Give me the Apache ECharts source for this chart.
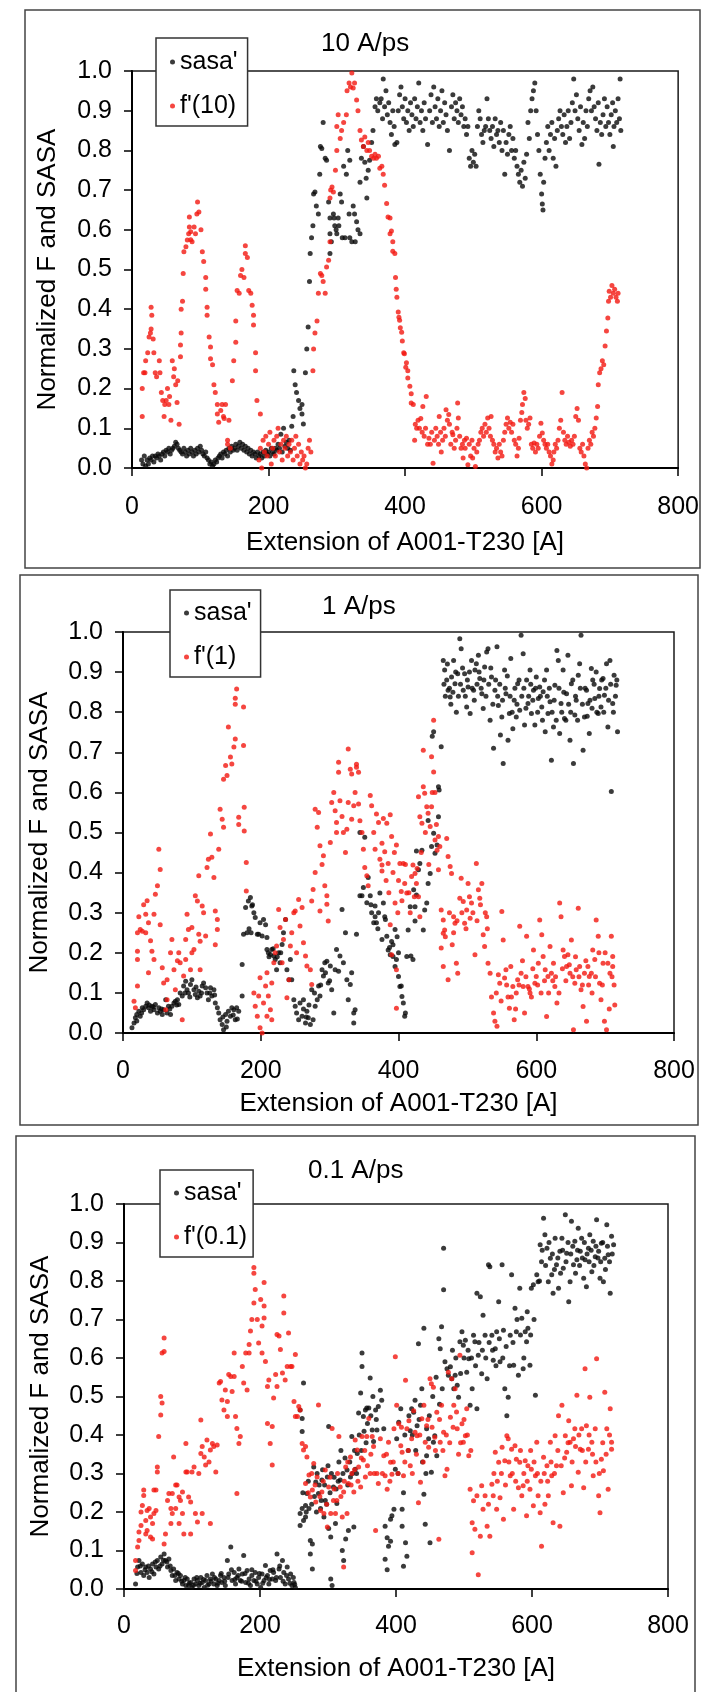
<!DOCTYPE html>
<html><head><meta charset="utf-8">
<script src="https://cdn.jsdelivr.net/npm/echarts@6/dist/echarts.min.js"></script>
<style>html,body{margin:0;padding:0;background:#fff}#c{width:702px;height:1692px}</style>
</head><body><div id="c"></div>
<script>
// ---------- texts / tick labels ----------
const panelTitles = ['10 A/ps', '1 A/ps', '0.1 A/ps'];
const sasaName = "sasa'";
const forceNames = ["f'(10)", "f'(1)", "f'(0.1)"];
const xAxisTitle = 'Extension of A001-T230 [A]';
const yAxisTitle = 'Normalized F and SASA';
const xTickLabels = ['0', '200', '400', '600', '800'];
const yTickLabels = ['0.0','0.1','0.2','0.3','0.4','0.5','0.6','0.7','0.8','0.9','1.0'];

// ---------- panel 1 : 10 A/ps ----------
const sasa10 = [
[14,0.02],[16,0.01],[18,0.03],[20,0.005],[22,0.02],[24,0.01],[26,0.025],[28,0.02],[30,0.03],[32,0.015],[34,0.03],[36,0.025],[38,0.035],[40,0.03],[42,0.02],[44,0.035],[46,0.04],[48,0.03],[50,0.045],[52,0.04],[54,0.05],[56,0.035],[58,0.045],[60,0.05],[62,0.055],[64,0.065],[66,0.06],[68,0.05],[70,0.045],[72,0.04],[74,0.035],[76,0.05],[78,0.04],[80,0.03],[82,0.045],[84,0.035],[86,0.05],[88,0.04],[90,0.03],[92,0.045],[94,0.035],[96,0.05],[98,0.04],[100,0.055],[102,0.045],[104,0.035],[106,0.03],[108,0.04],[110,0.025],[112,0.02],[114,0.01],[116,0.015],[118,0.005],[120,0.01],[122,0.02],[124,0.015],[126,0.025],[128,0.03],[130,0.035],[132,0.025],[134,0.04],[136,0.035],[138,0.045],[140,0.03],[142,0.05],[144,0.04],[146,0.055],[148,0.045],[150,0.05],[152,0.06],[154,0.045],[156,0.055],[158,0.065],[160,0.05],[162,0.06],[164,0.045],[166,0.055],[168,0.04],[170,0.05],[172,0.035],[174,0.045],[176,0.03],[178,0.04],[180,0.035],[182,0.025],[184,0.04],[186,0.03],[188,0.035],[190,0.025],[192,0.04],[194,0.03],[196,0.045],[198,0.035],[200,0.04],[202,0.03],[204,0.05],[206,0.04],[208,0.035],[210,0.05],[212,0.045],[214,0.06],[216,0.05],[218,0.085],[220,0.04],[222,0.1],[224,0.055],[226,0.065],[228,0.05],[230,0.07],[232,0.045],[234,0.105],[236,0.13],
[237,0.245],[239,0.21],[241,0.19],[244,0.17],[246,0.15],[249,0.136],[251,0.111],[249,0.16],[254,0.24],[256,0.3],[258,0.355],[260,0.47],[261,0.54],[263,0.58],[265,0.61],[266,0.69],[268,0.695],[270,0.66],[273,0.64],[275,0.74],[276,0.81],[278,0.805],[280,0.87],[283,0.78],[285,0.775],[288,0.67],[290,0.63],[290,0.59],[292,0.57],[290,0.54],[295,0.64],[297,0.61],[300,0.59],[302,0.63],[305,0.69],[307,0.67],[308,0.58],[310,0.76],[314,0.74],[316,0.8],[319,0.775],[319,0.58],[322,0.57],[324,0.66],[326,0.64],[329,0.62],[331,0.6],[334,0.59],[334,0.72],[336,0.78],[339,0.81],[341,0.77],[343,0.73],[346,0.75],[344,0.68],[348,0.775],[351,0.82],[353,0.85],[356,0.91],[358,0.93],[360,0.9],[363,0.92],[296,0.63],[299,0.6],[303,0.61],[312,0.58],[318,0.64],[327,0.57],
[365,0.93],[367,0.88],[368,0.98],[370,0.91],[372,0.95],[374,0.89],[376,0.92],[378,0.87],[380,0.84],[382,0.9],[384,0.86],[385,0.815],[388,0.82],[390,0.9],[392,0.94],[394,0.96],[396,0.91],[398,0.88],[400,0.93],[402,0.87],[404,0.9],[406,0.85],[408,0.92],[410,0.89],[412,0.86],[414,0.93],[416,0.88],[418,0.91],[420,0.97],[422,0.87],[424,0.9],[426,0.85],[428,0.92],[430,0.88],[433,0.815],[436,0.9],[438,0.94],[440,0.87],[442,0.96],[444,0.91],[446,0.88],[448,0.93],[450,0.86],[452,0.9],[454,0.95],[456,0.87],[458,0.92],[460,0.89],[462,0.85],[465,0.8],[468,0.91],[470,0.94],[472,0.88],[474,0.92],[476,0.9],[478,0.87],[480,0.93],[482,0.89],[484,0.91],[486,0.86],[488,0.88],[490,0.84],[492,0.86],[494,0.78],[496,0.76],[498,0.8],[500,0.77],[502,0.79],[504,0.76],[506,0.86],[508,0.9],[510,0.88],[512,0.84],[514,0.82],[516,0.85],[518,0.86],[520,0.93],[522,0.88],[524,0.85],[526,0.83],[528,0.86],[530,0.81],[532,0.88],[534,0.84],[536,0.85],[538,0.82],[540,0.87],[542,0.8],[544,0.85],[546,0.74],[548,0.82],[550,0.79],[552,0.84],[554,0.86],[556,0.8],[558,0.83],[560,0.78],[562,0.8],[564,0.76],[566,0.74],[568,0.72],[570,0.75],[572,0.71],[574,0.77],[576,0.73],[578,0.79],[580,0.87],[582,0.83],[584,0.9],[586,0.93],[588,0.95],[590,0.97],[592,0.9],[594,0.84],[596,0.8],[598,0.74],[600,0.69],[601,0.665],[602,0.65],[603,0.72],[605,0.78],[607,0.82],[609,0.86],[611,0.8],[613,0.84],[615,0.87],[617,0.78],[619,0.83],[621,0.76],[623,0.85],[625,0.88],[627,0.9],[629,0.86],[631,0.84],[633,0.89],[635,0.82],[637,0.86],[639,0.9],[641,0.83],[643,0.87],[645,0.92],[647,0.98],[649,0.9],[651,0.94],[653,0.88],[655,0.85],[657,0.91],[659,0.815],[661,0.87],[663,0.83],[665,0.9],[667,0.86],[669,0.93],[671,0.95],[673,0.9],[675,0.96],[677,0.91],[679,0.88],[681,0.85],[683,0.92],[684,0.765],[686,0.87],[688,0.84],[690,0.89],[692,0.93],[694,0.86],[696,0.91],[698,0.87],[700,0.84],[702,0.89],[704,0.92],[705,0.81],[706,0.86],[708,0.9],[710,0.87],[712,0.93],[714,0.88],[715,0.98],[716,0.85]
];
const force10 = [
[15,0.13],[15,0.2],[17,0.24],[19,0.24],[20,0.27],[23,0.29],[25,0.33],[27,0.34],[28,0.35],[28,0.405],[29,0.385],[31,0.325],[32,0.29],[34,0.24],[36,0.23],[40,0.27],[41,0.24],[43,0.19],[45,0.17],[47,0.13],[48,0.16],[50,0.17],[52,0.2],[54,0.16],[55,0.18],[57,0.12],[59,0.27],[61,0.23],[62,0.25],[64,0.21],[66,0.165],[67,0.22],[69,0.11],[71,0.28],[71,0.31],[72,0.34],[72,0.4],[74,0.42],[75,0.49],[76,0.545],[79,0.557],[81,0.574],[83,0.59],[84,0.607],[84,0.632],[86,0.575],[86,0.595],[88,0.57],[91,0.607],[93,0.59],[95,0.64],[96,0.67],[98,0.645],[101,0.6],[103,0.545],[105,0.52],[108,0.48],[108,0.45],[110,0.405],[110,0.385],[113,0.33],[115,0.305],[115,0.275],[118,0.26],[120,0.21],[122,0.19],[125,0.16],[125,0.136],[127,0.115],[130,0.145],[132,0.16],[134,0.13],[135,0.125],[137,0.16],[140,0.06],[140,0.07],[142,0.12],[144,0.05],[147,0.22],[149,0.27],[152,0.317],[152,0.37],[154,0.447],[157,0.44],[159,0.485],[161,0.5],[164,0.48],[166,0.54],[166,0.56],[169,0.53],[171,0.447],[174,0.44],[176,0.41],[178,0.385],[178,0.36],[181,0.29],[181,0.245],[183,0.17],[188,0.136],
[186,0.02],[188,0.05],[190,0.0],[192,0.07],[194,0.04],[196,0.08],[198,0.03],[200,0.06],[202,0.09],[204,0.01],[206,0.05],[208,0.07],[210,0.03],[212,0.08],[214,0.1],[216,0.04],[218,0.06],[220,0.02],[222,0.07],[224,0.05],[226,0.08],[228,0.03],[230,0.06],[232,0.04],[234,0.07],[236,0.02],[238,0.05],[240,0.08],[242,0.03],[244,0.06],[246,0.01],[248,0.04],[250,0.02],[252,0.03],[254,0.0],[256,0.01],[258,0.05],[260,0.07],[262,0.04],
[265,0.245],[266,0.3],[268,0.34],[271,0.37],[273,0.44],[276,0.49],[278,0.485],[280,0.47],[283,0.44],[285,0.506],[288,0.523],[290,0.57],[290,0.68],[291,0.7],[293,0.708],[295,0.695],[298,0.75],[300,0.8],[300,0.86],[302,0.89],[305,0.83],[307,0.85],[310,0.87],[314,0.89],[315,0.95],[318,0.97],[320,0.96],[322,0.995],[324,0.957],[326,0.97],[329,0.927],[331,0.9],[334,0.85],[336,0.826],[339,0.81],[341,0.834],[344,0.8],[346,0.82],[348,0.8],[351,0.785],[354,0.78],[356,0.79],[358,0.78],[361,0.785],[363,0.755],[366,0.76],[368,0.74],[370,0.712],[373,0.666],[375,0.632],[378,0.59],[378,0.63],[380,0.597],[382,0.57],[382,0.546],[385,0.54],[386,0.48],[387,0.45],[388,0.43],[390,0.393],[391,0.38],[392,0.372],[393,0.353],[395,0.342],[396,0.32],[398,0.29],[399,0.288],[401,0.254],[402,0.265],[404,0.245],[404,0.227],[407,0.206],[409,0.187],[409,0.164],[412,0.16],
[414,0.07],[415,0.11],[417,0.1],[419,0.12],[421,0.1],[423,0.125],[425,0.09],[426,0.155],[428,0.08],[430,0.1],[431,0.18],[433,0.06],[435,0.075],[437,0.06],[439,0.09],[441,0.012],[443,0.07],[445,0.1],[447,0.08],[449,0.06],[450,0.13],[452,0.09],[453,0.04],[455,0.07],[457,0.1],[459,0.08],[460,0.147],[462,0.12],[464,0.135],[465,0.11],[467,0.06],[469,0.09],[470,0.084],[472,0.05],[474,0.07],[476,0.1],[477,0.164],[478,0.126],[480,0.08],[482,0.05],[484,0.06],[485,0.025],[487,0.07],[488,0.05],[490,0.075],[492,0.008],[494,0.06],[496,0.03],[498,0.07],[499,0.025],[501,0.05],[503,0.004],[505,0.04],[507,0.06],[509,0.07],[511,0.09],[513,0.1],[515,0.08],[517,0.11],[519,0.09],[521,0.126],[523,0.1],[525,0.08],[526,0.13],[528,0.07],[530,0.06],[532,0.04],[534,0.05],[536,0.025],[538,0.06],[540,0.04],[542,0.03],[544,0.07],[546,0.09],[548,0.11],[550,0.126],[552,0.1],[554,0.115],[556,0.09],[558,0.11],[560,0.07],[562,0.06],[564,0.03],[566,0.05],[567,0.075],[569,0.12],[571,0.14],[572,0.16],[574,0.19],[576,0.175],[577,0.12],[579,0.1],[581,0.11],[583,0.126],[585,0.06],[587,0.05],[589,0.063],[591,0.04],[593,0.06],[595,0.05],[597,0.08],[599,0.113],[601,0.088],[603,0.07],[605,0.06],[607,0.05],[609,0.06],[611,0.04],[613,0.03],[615,0.01],[617,0.02],[618,0.04],[620,0.06],[622,0.05],[624,0.07],[626,0.1],[628,0.12],[630,0.19],[632,0.09],[634,0.07],[636,0.06],[638,0.08],[640,0.065],[642,0.055],[644,0.07],[646,0.06],[648,0.08],[650,0.13],[652,0.15],[654,0.12],[656,0.05],[658,0.04],[660,0.06],[662,0.03],[664,0.01],[666,0.0],[668,0.05],[670,0.07],[672,0.06],[674,0.09],[676,0.08],[678,0.1],[680,0.126],[682,0.155],[683,0.21],[685,0.24],[687,0.25],[689,0.27],[691,0.26],[693,0.307],[695,0.345],[697,0.378],[698,0.42],[699,0.445],[701,0.43],[703,0.46],[705,0.44],[707,0.45],[709,0.43],[711,0.42],[712,0.44]
];

// ---------- panel 2 : 1 A/ps ----------
const sasa1 = [
[13,0.013],[16,0.025],[18,0.038],[20,0.046],[23,0.054],[25,0.042],[28,0.063],[30,0.058],[33,0.067],[35,0.075],[37,0.063],[40,0.054],[42,0.067],[45,0.058],[47,0.071],[50,0.05],[52,0.063],[54,0.054],[57,0.046],[59,0.058],[62,0.083],[64,0.05],[66,0.067],[69,0.046],[71,0.067],[74,0.075],[76,0.079],[79,0.083],[81,0.071],[83,0.1],[86,0.092],[88,0.117],[91,0.129],[93,0.108],[95,0.1],[98,0.121],[100,0.133],[103,0.108],[105,0.096],[108,0.088],[110,0.104],[112,0.092],[115,0.117],[117,0.125],[120,0.113],[122,0.1],[124,0.083],[127,0.113],[129,0.092],[132,0.108],[134,0.075],[137,0.063],[139,0.05],[141,0.033],[144,0.021],[146,0.008],[149,0.046],[151,0.029],[153,0.054],[156,0.042],[158,0.063],[161,0.058],[163,0.033],[165,0.063],[168,0.054],[173,0.092],
[20,0.03],[27,0.05],[38,0.07],[44,0.065],[56,0.06],[68,0.06],[78,0.07],[90,0.1],[97,0.09],[106,0.115],[114,0.1],[126,0.1],[133,0.095],[145,0.04],[150,0.015],[160,0.045],[166,0.035],
[173,0.171],[175,0.246],[178,0.313],[182,0.329],[185,0.338],[187,0.317],[190,0.3],[192,0.288],[195,0.246],[197,0.246],[199,0.275],[202,0.242],[204,0.283],[207,0.27],[209,0.238],[209,0.208],[211,0.2],[214,0.196],[216,0.208],[219,0.192],[221,0.183],[223,0.158],[226,0.2],[228,0.175],[231,0.221],[233,0.25],[236,0.283],[238,0.158],[241,0.133],[243,0.183],[245,0.133],[248,0.083],[250,0.067],[252,0.05],[255,0.033],[257,0.075],[260,0.042],[262,0.083],[265,0.025],[267,0.054],[269,0.038],[272,0.021],[274,0.108],[276,0.033],[279,0.067],[282,0.083],[284,0.117],[286,0.092],[289,0.158],[291,0.142],[293,0.175],[296,0.179],[298,0.125],[301,0.167],[303,0.108],[306,0.05],[308,0.158],[310,0.208],[313,0.154],[315,0.192],[318,0.308],[320,0.175],[323,0.25],[325,0.133],[327,0.083],[330,0.121],[332,0.15],[335,0.025],[335,0.05],[337,0.058],[339,0.246],[344,0.342],[344,0.5],[347,0.342],[349,0.363],[351,0.488],[354,0.325],[356,0.388],[359,0.342],[361,0.3],[364,0.275],[366,0.317],[368,0.275],[371,0.3],
[212,0.19],[218,0.21],[224,0.19],[229,0.2],[180,0.25],[183,0.26],[186,0.25],[188,0.32],[262,0.06],[266,0.04],[270,0.07],[278,0.1],[287,0.12],[294,0.15],[300,0.13],
[373,0.349],[378,0.324],[380,0.29],[383,0.241],[385,0.207],[388,0.195],[390,0.228],[392,0.191],[395,0.166],[397,0.183],[400,0.141],[402,0.116],[405,0.091],[407,0.075],[410,0.05],[412,0.191],[414,0.257],[417,0.315],[422,0.357],[424,0.315],[426,0.344],[429,0.407],[431,0.423],[434,0.456],[436,0.257],[438,0.307],[441,0.324],[443,0.373],[446,0.398],[448,0.465],[451,0.498],[453,0.448],[456,0.469],[458,0.539],[458,0.614],[451,0.751],[462,0.714],
[376,0.233],[381,0.283],[387,0.213],[395,0.258],[400,0.2],[404,0.117],[409,0.042],[418,0.192],[421,0.183],[424,0.279],[426,0.454],[370,0.26],[366,0.29],[360,0.32],[398,0.24],[392,0.22],[459,0.606],[449,0.74],[443,0.53],
[465,0.929],[467,0.905],[470,0.88],[472,0.855],[475,0.838],[477,0.888],[480,0.929],[482,0.871],[484,0.8],[486,0.896],[489,0.983],[491,0.958],[494,0.855],[496,0.896],[499,0.813],[501,0.863],[504,0.797],[506,0.929],[509,0.855],[511,0.905],[513,0.921],[516,0.942],[518,0.884],[521,0.846],[523,0.809],[525,0.913],[528,0.95],[530,0.958],[533,0.78],[535,0.888],[538,0.71],[540,0.855],[543,0.963],[545,0.817],[548,0.743],[550,0.788],[552,0.672],[554,0.905],[556,0.846],[559,0.73],[561,0.797],[563,0.934],[566,0.759],[568,0.83],[571,0.788],[573,0.871],[576,0.805],[578,0.992],[581,0.946],[583,0.768],[586,0.88],[588,0.822],[591,0.905],[593,0.797],[596,0.855],[598,0.768],[600,0.888],[603,0.834],[605,0.863],[608,0.813],[610,0.851],[613,0.751],[615,0.905],[617,0.797],[620,0.826],[622,0.68],[625,0.763],[627,0.867],[630,0.954],[632,0.929],[634,0.747],[636,0.822],[639,0.905],[641,0.784],[644,0.846],[646,0.942],[649,0.73],[651,0.871],[654,0.672],[656,0.793],[658,0.83],[661,0.892],[663,0.921],[665,0.992],[668,0.705],[670,0.788],[673,0.855],[675,0.822],[677,0.747],[680,0.909],[682,0.88],[685,0.834],[687,0.9],[690,0.797],[692,0.859],[694,0.813],[697,0.884],[699,0.842],[702,0.921],[704,0.763],[707,0.929],[709,0.602],[711,0.822],[713,0.892],[716,0.867],[718,0.751],
[466,0.87],[468,0.84],[471,0.92],[474,0.86],[476,0.82],[479,0.85],[483,0.9],[487,0.84],[490,0.87],[493,0.91],[497,0.84],[500,0.88],[503,0.9],[507,0.86],[510,0.83],[514,0.87],[517,0.9],[520,0.86],[524,0.88],[527,0.84],[531,0.87],[534,0.91],[537,0.82],[541,0.88],[544,0.84],[547,0.87],[551,0.83],[555,0.86],[558,0.89],[562,0.84],[565,0.8],[569,0.86],[572,0.82],[575,0.88],[579,0.84],[582,0.86],[585,0.81],[589,0.84],[592,0.87],[595,0.83],[599,0.86],[602,0.8],[606,0.84],[609,0.78],[612,0.88],[616,0.84],[619,0.86],[623,0.8],[626,0.83],[629,0.78],[633,0.86],[637,0.8],[640,0.85],[643,0.78],[647,0.82],[650,0.8],[653,0.88],[657,0.84],[660,0.78],[664,0.86],[667,0.82],[671,0.86],[674,0.79],[678,0.83],[681,0.81],[684,0.87],[688,0.8],[691,0.84],[695,0.88],[698,0.8],[701,0.86],[705,0.83],[708,0.87],[712,0.8],[715,0.84],[717,0.88]
];
const force1 = [
[16,0.079],[18,0.063],[21,0.117],[21,0.183],[21,0.204],[21,0.25],[23,0.29],[25,0.258],[28,0.254],[30,0.32],[33,0.25],[33,0.296],[35,0.33],[37,0.275],[37,0.15],[40,0.23],[42,0.204],[45,0.183],[45,0.296],[47,0.346],[50,0.367],[52,0.458],[54,0.408],[54,0.27],[57,0.163],[59,0.125],[62,0.058],[64,0.083],[64,0.133],[69,0.2],[71,0.233],[74,0.158],[76,0.108],[79,0.18],[81,0.2],[83,0.175],[86,0.033],[88,0.142],[91,0.183],[91,0.233],[93,0.296],[95,0.258],[98,0.158],[100,0.2],[100,0.263],[103,0.208],[105,0.342],[108,0.329],[110,0.392],[110,0.246],[112,0.158],[112,0.229],[115,0.317],[117,0.3],[120,0.242],[122,0.413],[124,0.433],[127,0.496],[129,0.438],[132,0.388],[134,0.304],[137,0.283],[134,0.22],[137,0.258],[139,0.458],[141,0.558],[144,0.533],[146,0.513],[146,0.633],[149,0.667],[151,0.642],[153,0.763],[156,0.688],[158,0.671],[161,0.713],[163,0.733],[163,0.835],[165,0.858],[163,0.82],[168,0.538],[168,0.52],[175,0.813],[175,0.717],[176,0.563],[176,0.504],[179,0.425],[179,0.354],
[190,0.1],[192,0.067],[195,0.042],[197,0.092],[199,0.138],[202,0.0],[199,0.013],[204,0.075],[207,0.117],[209,0.15],[209,0.042],[211,0.092],[214,0.058],[216,0.125],[216,0.033],[219,0.175],[221,0.2],[223,0.217],[226,0.308],[228,0.263],[231,0.175],[233,0.233],[236,0.283],[238,0.088],[241,0.133],[243,0.217],[245,0.25],[248,0.3],[250,0.304],[252,0.2],[255,0.333],[257,0.267],[260,0.313],[262,0.225],[265,0.192],[267,0.167],[272,0.158],[274,0.121],[274,0.329],[276,0.358],[279,0.4],[279,0.558],[282,0.513],[284,0.55],[286,0.467],[289,0.42],[286,0.304],[291,0.442],[293,0.367],[296,0.342],[296,0.321],[298,0.279],[301,0.475],[303,0.575],[306,0.6],[308,0.554],[310,0.525],[310,0.5],[313,0.675],[313,0.65],[315,0.579],[318,0.54],[320,0.5],[323,0.45],[325,0.508],[327,0.708],[327,0.575],[330,0.658],[332,0.646],[332,0.533],[335,0.567],[337,0.6],[339,0.67],[339,0.663],[342,0.65],[342,0.571],[344,0.529],[347,0.5],[349,0.458],[351,0.413],[354,0.392],[356,0.367],[359,0.592],[361,0.567],[364,0.5],[366,0.458],[368,0.546],[371,0.525],[373,0.433],[376,0.404],
[378,0.535],[383,0.523],[388,0.544],[376,0.473],[380,0.452],[376,0.419],[385,0.423],[390,0.49],[397,0.469],[402,0.423],[407,0.423],[409,0.373],[412,0.349],[404,0.353],[395,0.324],[399,0.3],[388,0.27],[390,0.195],[397,0.158],[397,0.062],[419,0.39],[421,0.419],[424,0.398],[426,0.373],[429,0.34],[431,0.29],[436,0.705],[429,0.589],[431,0.539],[434,0.523],[436,0.614],[438,0.598],[441,0.564],[443,0.548],[446,0.515],[448,0.689],[448,0.564],[451,0.78],[451,0.651],[453,0.6],[453,0.481],[456,0.456],[458,0.49],[460,0.465],[458,0.407],[462,0.307],[465,0.282],[467,0.257],[470,0.485],[472,0.44],[475,0.415],[477,0.398],[462,0.212],[465,0.249],[465,0.166],[472,0.133],[480,0.29],[480,0.25],[482,0.274],[484,0.174],[486,0.149],[489,0.336],[491,0.386],[494,0.328],[496,0.274],[499,0.307],[501,0.373],[504,0.286],[506,0.324],[511,0.195],[513,0.423],[516,0.357],[518,0.336],[521,0.373],[523,0.245],[525,0.216],[528,0.29],[530,0.174],[533,0.149],[535,0.09],[538,0.05],[540,0.029],[543,0.017],[545,0.145],[547,0.124],[550,0.303],[552,0.232],[554,0.137],[556,0.158],[559,0.09],[561,0.062],[563,0.166],[566,0.116],[568,0.033],[571,0.1],[573,0.133],[576,0.266],[578,0.149],[581,0.116],[583,0.05],[586,0.241],[588,0.116],[591,0.1],[593,0.09],[596,0.207],[598,0.124],[600,0.141],[603,0.174],[605,0.282],[608,0.245],[610,0.191],[613,0.158],[615,0.041],[617,0.141],[620,0.216],[622,0.149],[625,0.174],[627,0.116],[630,0.075],[634,0.324],[636,0.29],[639,0.207],[641,0.191],[644,0.166],[646,0.195],[649,0.149],[651,0.232],[654,0.008],[656,0.124],[658,0.158],[661,0.311],[663,0.166],[665,0.108],[668,0.066],[670,0.149],[673,0.029],[675,0.166],[677,0.141],[680,0.149],[682,0.207],[685,0.183],[687,0.282],[690,0.241],[692,0.124],[694,0.083],[697,0.174],[699,0.029],[702,0.008],[704,0.174],[707,0.149],[709,0.241],[711,0.166],[714,0.07],[711,0.191],
[542,0.1],[549,0.08],[557,0.12],[564,0.09],[570,0.06],[575,0.12],[580,0.18],[585,0.14],[590,0.11],[595,0.16],[602,0.12],[607,0.1],[612,0.13],[618,0.1],[624,0.13],[628,0.14],[633,0.1],[638,0.16],[643,0.13],[648,0.17],[653,0.14],[657,0.19],[662,0.14],[667,0.12],[672,0.18],[676,0.12],[681,0.1],[686,0.14],[691,0.2],[696,0.12],[700,0.2],[706,0.06],[710,0.14],[713,0.12],
[468,0.24],[474,0.3],[478,0.22],[485,0.28],[492,0.3],[498,0.26],[503,0.34],[508,0.3],[514,0.28],[519,0.32],[526,0.3],[529,0.26],
[382,0.38],[386,0.35],[392,0.4],[394,0.45],[400,0.38],[405,0.33],[410,0.42],[415,0.35],[417,0.3],[423,0.34],[427,0.41],[433,0.45],[439,0.5],[444,0.42],[449,0.6],[455,0.52]
];

// ---------- panel 3 : 0.1 A/ps ----------
const sasa01 = [
[17,0.013],[20,0.057],[22,0.074],[25,0.043],[27,0.065],[29,0.035],[32,0.057],[34,0.043],[37,0.03],[39,0.052],[42,0.065],[44,0.039],[47,0.057],[49,0.074],[51,0.052],[54,0.083],[56,0.065],[59,0.091],[61,0.074],[64,0.057],[66,0.078],[69,0.048],[71,0.035],[73,0.052],[76,0.022],[78,0.043],[81,0.026],[83,0.035],[86,0.013],[88,0.022],[91,0.009],[93,0.026],[95,0.009],[98,0.017],[100,0.004],[103,0.026],[105,0.013],[108,0.022],[110,0.009],[113,0.03],[115,0.017],[118,0.004],[120,0.022],[122,0.035],[125,0.013],[127,0.026],[130,0.039],[132,0.013],[135,0.026],[137,0.009],[140,0.022],[142,0.035],[144,0.017],[147,0.03],[149,0.009],[152,0.074],[154,0.039],[157,0.109],[159,0.022],[162,0.043],[164,0.013],[166,0.03],[169,0.052],[171,0.022],[174,0.039],[176,0.087],[179,0.017],[181,0.048],[184,0.026],[186,0.009],[188,0.035],[191,0.022],[193,0.043],[196,0.013],[198,0.03],[201,0.004],[203,0.039],[206,0.022],[208,0.061],[211,0.035],[213,0.013],[215,0.048],[218,0.026],[220,0.043],[223,0.022],[225,0.091],[228,0.052],[230,0.03],[233,0.074],[235,0.043],[237,0.013],[240,0.057],[242,0.026],[245,0.039],[247,0.009],[250,0.017],[252,0.004],
[19,0.04],[24,0.06],[31,0.05],[36,0.06],[41,0.045],[46,0.07],[53,0.06],[58,0.075],[63,0.07],[68,0.06],[75,0.035],[80,0.04],[85,0.02],[90,0.03],[96,0.015],[102,0.01],[107,0.03],[112,0.015],[117,0.025],[123,0.01],[128,0.02],[133,0.03],[138,0.015],[143,0.04],[148,0.02],[153,0.03],[158,0.05],[163,0.025],[168,0.035],[173,0.02],[178,0.04],[183,0.015],[188,0.05],[194,0.02],[199,0.04],[204,0.015],[209,0.03],[214,0.025],[219,0.05],[224,0.03],[229,0.06],[234,0.02],[239,0.035],[244,0.015],[249,0.03],[251,0.012],
[262,0.443],[259,0.465],[264,0.535],[262,0.409],[259,0.196],[259,0.165],[262,0.209],[264,0.178],[267,0.217],[267,0.187],[269,0.248],[272,0.209],[274,0.126],[274,0.091],[277,0.117],[277,0.052],[279,0.317],[282,0.278],[284,0.3],[286,0.248],[289,0.209],[291,0.283],[294,0.187],[296,0.23],[299,0.291],[301,0.422],[301,0.157],[304,0.026],[304,0.135],[306,0.009],[308,0.265],[311,0.17],[313,0.222],[316,0.33],[318,0.283],[321,0.1],[323,0.074],[326,0.13],[328,0.309],[330,0.152],[333,0.291],[335,0.396],[338,0.161],[340,0.311],[343,0.352],[345,0.457],[348,0.509],[350,0.613],[350,0.578],[352,0.448],[355,0.465],[357,0.47],[360,0.47],[362,0.548],[365,0.413],[367,0.383],[370,0.465],[372,0.413],[374,0.474],
[263,0.25],[268,0.2],[271,0.28],[276,0.22],[280,0.24],[283,0.2],[287,0.27],[290,0.23],[292,0.31],[295,0.27],[298,0.22],[300,0.32],[303,0.25],[305,0.3],[309,0.29],[312,0.26],[315,0.28],[319,0.36],[322,0.3],[325,0.34],[329,0.27],[332,0.33],[336,0.3],[339,0.36],[342,0.3],[346,0.4],[349,0.36],[353,0.41],[356,0.38],[358,0.43],[363,0.45],[366,0.5],[371,0.44],
[377,0.516],[379,0.49],[382,0.416],[384,0.163],[384,0.077],[387,0.133],[387,0.05],[389,0.111],[392,0.124],[392,0.181],[394,0.19],[397,0.207],[399,0.311],[401,0.39],[404,0.433],[407,0.468],[409,0.207],[409,0.163],[411,0.25],[411,0.059],[414,0.12],[416,0.085],[419,0.45],[421,0.411],[423,0.468],[426,0.459],[428,0.49],[431,0.424],[433,0.637],[436,0.477],[438,0.52],[441,0.246],[441,0.677],[443,0.168],[445,0.346],[445,0.416],[448,0.39],[450,0.12],[452,0.303],[455,0.381],[457,0.398],[460,0.346],[463,0.65],[465,0.624],[467,0.681],[470,0.885],[470,0.777],[472,0.59],[475,0.572],[477,0.555],[480,0.577],[482,0.546],[485,0.52],[487,0.555],[490,0.529],[492,0.498],[494,0.642],[497,0.668],[499,0.633],[502,0.646],[504,0.563],[507,0.598],[509,0.477],[512,0.52],[514,0.659],[516,0.642],[519,0.768],[519,0.468],[521,0.607],[524,0.759],[526,0.559],[528,0.711],[531,0.659],[534,0.546],[536,0.842],[538,0.837],[541,0.659],[543,0.594],[546,0.624],[548,0.668],[551,0.746],[553,0.59],[556,0.842],[558,0.672],[560,0.52],[563,0.45],[565,0.498],[568,0.659],[570,0.816],[573,0.581],[575,0.729],[577,0.668],[580,0.555],[582,0.781],[585,0.703],[587,0.572],[590,0.668],[592,0.642],[594,0.677],[597,0.581],[599,0.781],[602,0.79],[605,0.503],[607,0.816],[609,0.798],[612,0.894],[614,0.85],[617,0.963],[619,0.92],[622,0.885],[624,0.798],[627,0.859],[629,0.816],[631,0.768],[634,0.911],[636,0.842],[639,0.781],[641,0.877],[644,0.911],[646,0.833],[649,0.972],[651,0.872],[654,0.746],[656,0.798],[658,0.955],[661,0.842],[663,0.903],[666,0.855],[668,0.937],[671,0.877],[673,0.911],[676,0.807],[678,0.855],[680,0.785],[683,0.885],[685,0.92],[688,0.824],[690,0.903],[693,0.863],[695,0.959],[698,0.877],[700,0.807],[702,0.898],[705,0.798],[707,0.859],[710,0.946],[712,0.868],[715,0.768],[717,0.916],[720,0.894],
[611,0.8],[615,0.88],[620,0.84],[625,0.9],[630,0.87],[633,0.83],[638,0.86],[642,0.82],[645,0.88],[650,0.85],[653,0.9],[657,0.87],[660,0.89],[664,0.82],[667,0.88],[670,0.84],[674,0.86],[677,0.9],[681,0.87],[684,0.85],[687,0.88],[691,0.84],[694,0.89],[697,0.86],[701,0.85],[704,0.9],[708,0.83],[711,0.89],[714,0.85],[718,0.87],
[483,0.62],[488,0.6],[495,0.56],[500,0.6],[506,0.62],[511,0.6],[517,0.58],[522,0.64],[527,0.62],[532,0.6],[537,0.64],[542,0.62],[547,0.58],[552,0.65],[557,0.6],[562,0.63],[567,0.58],[572,0.64],[578,0.7],[583,0.66],[588,0.6],[593,0.72],[598,0.66],[603,0.7],
[403,0.3],[413,0.4],[418,0.36],[424,0.4],[429,0.36],[434,0.44],[439,0.33],[444,0.3],[449,0.45],[454,0.5],[459,0.55],[464,0.48],[468,0.52]
];
const force01 = [
[17,0.048],[17,0.074],[20,0.109],[22,0.126],[22,0.148],[25,0.165],[25,0.2],[27,0.217],[29,0.243],[29,0.257],[32,0.143],[32,0.178],[34,0.204],[34,0.152],[37,0.209],[39,0.187],[39,0.135],[42,0.13],[42,0.17],[44,0.196],[47,0.204],[44,0.257],[47,0.257],[49,0.304],[49,0.317],[51,0.396],[54,0.452],[54,0.5],[56,0.483],[56,0.613],[59,0.617],[59,0.652],[59,0.117],[61,0.143],[64,0.23],[66,0.248],[69,0.17],[69,0.209],[71,0.196],[71,0.248],[73,0.343],[76,0.209],[76,0.27],[78,0.27],[81,0.17],[81,0.239],[83,0.23],[86,0.196],[86,0.252],[88,0.143],[91,0.304],[91,0.378],[93,0.304],[95,0.239],[98,0.226],[98,0.143],[100,0.304],[103,0.317],[105,0.196],[108,0.174],[110,0.3],[113,0.352],[113,0.439],[115,0.37],[115,0.196],[118,0.343],[120,0.322],[122,0.387],[125,0.33],[127,0.361],[127,0.17],[130,0.378],[132,0.37],[135,0.304],[137,0.374],[140,0.535],[142,0.539],[144,0.491],[147,0.465],[149,0.517],[152,0.487],[152,0.448],[154,0.557],[157,0.552],[159,0.513],[162,0.552],[162,0.613],[164,0.448],[166,0.417],[166,0.248],[169,0.378],[171,0.396],[174,0.578],[176,0.535],[179,0.613],[181,0.517],[184,0.613],[184,0.635],[186,0.67],[188,0.7],[191,0.743],[191,0.82],[191,0.835],[193,0.778],[196,0.7],[198,0.639],[201,0.752],[203,0.613],[203,0.683],[206,0.796],[206,0.735],[206,0.704],[208,0.591],[211,0.526],[211,0.43],[213,0.543],[215,0.378],[218,0.422],[218,0.322],[220,0.496],[223,0.557],[225,0.526],[225,0.661],[228,0.657],[230,0.622],[233,0.561],[235,0.761],[235,0.717],[237,0.543],[240,0.578],[242,0.665],[245,0.578],[247,0.578],[250,0.487],[252,0.609],[252,0.448],[255,0.448],[257,0.474],[259,0.465],[262,0.378],[264,0.361],[267,0.37],[269,0.343],[267,0.274],[272,0.296],[274,0.239],[277,0.257],[279,0.326],[282,0.226],[284,0.291],[286,0.478],[289,0.204],[291,0.252],[294,0.196],[296,0.309],[299,0.161],[301,0.265],[304,0.196],[306,0.417],[308,0.23],[311,0.196],[313,0.23],[316,0.396],[318,0.265],[321,0.187],[323,0.252],[323,0.057],[326,0.317],[328,0.196],[330,0.274],[333,0.343],[335,0.3],[338,0.252],[340,0.387],[343,0.361],[345,0.317],[348,0.265],[350,0.396],[352,0.335],[355,0.291],[357,0.396],[360,0.443],[362,0.3],[365,0.396],[367,0.37],[370,0.152],[372,0.3],[374,0.274],
[271,0.25],[276,0.3],[281,0.27],[288,0.24],[293,0.28],[298,0.22],[303,0.29],[309,0.26],[314,0.3],[319,0.24],[324,0.28],[329,0.33],[334,0.27],[339,0.31],[344,0.28],[349,0.34],[354,0.36],[358,0.32],[363,0.35],[368,0.3],
[377,0.39],[382,0.346],[384,0.294],[387,0.259],[389,0.381],[392,0.329],[394,0.298],[397,0.416],[399,0.603],[401,0.477],[404,0.429],[407,0.372],[409,0.355],[411,0.294],[414,0.542],[416,0.416],[419,0.437],[421,0.32],[423,0.39],[426,0.463],[428,0.407],[431,0.398],[433,0.224],[436,0.277],[438,0.442],[441,0.477],[443,0.381],[445,0.424],[448,0.368],[450,0.546],[452,0.533],[455,0.524],[457,0.394],[460,0.459],[463,0.129],[465,0.381],[467,0.477],[470,0.407],[472,0.294],[475,0.311],[477,0.563],[480,0.446],[482,0.546],[485,0.477],[487,0.52],[490,0.416],[492,0.35],[494,0.607],[497,0.429],[499,0.381],[502,0.398],[504,0.468],[507,0.346],[509,0.259],[512,0.172],[512,0.094],[514,0.229],[516,0.155],[519,0.242],[521,0.037],[524,0.137],[526,0.268],[528,0.207],[531,0.242],[534,0.163],[536,0.22],[538,0.137],[541,0.272],[543,0.242],[546,0.355],[548,0.207],[551,0.329],[553,0.237],[556,0.368],[558,0.181],[560,0.333],[563,0.398],[565,0.39],[568,0.294],[570,0.363],[573,0.207],[575,0.372],[577,0.337],[580,0.263],[582,0.329],[585,0.242],[587,0.268],[590,0.333],[592,0.19],[594,0.32],[597,0.259],[599,0.311],[602,0.216],[605,0.294],[607,0.381],[609,0.242],[612,0.198],[614,0.111],[617,0.342],[619,0.22],[622,0.32],[624,0.242],[627,0.381],[629,0.294],[631,0.172],[634,0.398],[636,0.32],[639,0.45],[641,0.163],[644,0.477],[646,0.25],[649,0.398],[651,0.355],[654,0.437],[656,0.381],[658,0.268],[661,0.39],[663,0.416],[666,0.503],[668,0.303],[671,0.363],[673,0.416],[676,0.263],[678,0.572],[680,0.424],[683,0.363],[685,0.498],[688,0.381],[690,0.294],[693,0.416],[695,0.598],[698,0.242],[700,0.198],[702,0.337],[705,0.307],[707,0.511],[710,0.416],[712,0.259],[715,0.468],[717,0.363],[717,0.381],
[380,0.3],[386,0.35],[391,0.28],[396,0.33],[403,0.3],[408,0.42],[413,0.33],[418,0.36],[424,0.3],[430,0.35],[435,0.4],[440,0.33],[447,0.44],[453,0.42],[458,0.36],[464,0.44],[469,0.36],[474,0.4],[479,0.38],[484,0.42],[489,0.46],[495,0.38],[500,0.44],[505,0.4],[510,0.36],[544,0.3],[549,0.28],[555,0.3],[561,0.27],[566,0.33],[571,0.3],[576,0.28],[583,0.36],[588,0.3],[593,0.28],[598,0.36],[603,0.33],[608,0.3],[613,0.28],[618,0.3],[623,0.28],[628,0.33],[633,0.3],[638,0.36],[643,0.32],[648,0.34],[653,0.38],[659,0.33],[664,0.37],[669,0.4],[674,0.36],[679,0.33],[684,0.4],[689,0.35],[694,0.33],[699,0.3],[704,0.38],[709,0.35],[714,0.4]
];

// ---------- layout ----------
const FONT = '"Liberation Sans", Arial, Helvetica, sans-serif';
const BLACK = '#0a0a0a';
const RED = '#f21810';
const panels = [
  {title: panelTitles[0], tLeft: 321, tTop: 31, grid: {left: 132, top: 71, width: 548, height: 397},
   legend: {left: 156, top: 38, padding: [10, 10, 6, 14]}, xMargin: 27, xGap: 62, yGap: 71,
   frame: [25, 10, 675, 558], sasa: sasa10, force: force10, fname: forceNames[0]},
  {title: panelTitles[1], tLeft: 322, tTop: 594, grid: {left: 123, top: 632, width: 551, height: 401},
   legend: {left: 170, top: 590, padding: [9, 9, 6, 14]}, xMargin: 26, xGap: 58, yGap: 70,
   frame: [20, 575, 678, 550], sasa: sasa1, force: force1, fname: forceNames[1]},
  {title: panelTitles[2], tLeft: 308, tTop: 1158, grid: {left: 124, top: 1204, width: 544, height: 385},
   legend: {left: 160, top: 1170, padding: [9, 6, 6, 14]}, xMargin: 25, xGap: 67, yGap: 70,
   frame: [16, 1136, 679, 570], sasa: sasa01, force: force01, fname: forceNames[2]}
];

const option = {
  animation: false,
  backgroundColor: '#ffffff',
  title: [], legend: [], grid: [], xAxis: [], yAxis: [], series: [],
  graphic: []
};

panels.forEach((p, i) => {
  option.graphic.push({
    type: 'rect', z: 0, silent: true,
    shape: {x: p.frame[0], y: p.frame[1], width: p.frame[2], height: p.frame[3]},
    style: {fill: 'none', stroke: '#444', lineWidth: 1.5}
  });
  option.title.push({
    text: p.title, left: p.tLeft, top: p.tTop, padding: 0,
    textStyle: {fontFamily: FONT, fontSize: 26, fontWeight: 'normal', color: '#000'}
  });
  option.grid.push(Object.assign({show: true, borderColor: '#1a1a1a', borderWidth: 1.5, backgroundColor: 'transparent'}, p.grid));
  option.xAxis.push({
    gridIndex: i, type: 'value', min: 0, max: 800, interval: 200,
    name: xAxisTitle, nameLocation: 'middle', nameGap: p.xGap,
    nameTextStyle: {fontFamily: FONT, fontSize: 26, color: '#000'},
    axisLine: {show: true, onZero: false, lineStyle: {color: '#000', width: 2}},
    axisTick: {show: true, length: 8, lineStyle: {color: '#000', width: 1.5}},
    axisLabel: {fontFamily: FONT, fontSize: 25, color: '#000', margin: p.xMargin,
      formatter: v => xTickLabels[Math.round(v / 200)]},
    splitLine: {show: false}
  });
  option.yAxis.push({
    gridIndex: i, type: 'value', min: 0, max: 1, interval: 0.1,
    name: yAxisTitle, nameLocation: 'middle', nameGap: p.yGap, nameRotate: 90,
    nameTextStyle: {fontFamily: FONT, fontSize: 26, color: '#000'},
    axisLine: {show: true, onZero: false, lineStyle: {color: '#000', width: 2}},
    axisTick: {show: true, length: 8, lineStyle: {color: '#000', width: 1.5}},
    axisLabel: {fontFamily: FONT, fontSize: 25, color: '#000', margin: 20,
      formatter: v => yTickLabels[Math.round(v * 10)]},
    splitLine: {show: false}
  });
  option.series.push({
    name: sasaName, type: 'scatter', xAxisIndex: i, yAxisIndex: i,
    data: p.sasa, symbol: 'circle', symbolSize: 5,
    itemStyle: {color: BLACK}, z: 2
  });
  option.series.push({
    name: p.fname, type: 'scatter', xAxisIndex: i, yAxisIndex: i,
    data: p.force, symbol: 'circle', symbolSize: 5,
    itemStyle: {color: RED}, z: 3
  });
  option.legend.push({
    data: [{name: sasaName, itemStyle: {color: BLACK}}, {name: p.fname, itemStyle: {color: RED}}],
    left: p.legend.left, top: p.legend.top, orient: 'vertical',
    padding: p.legend.padding, itemGap: 16, itemWidth: 5, itemHeight: 5, itemTextGap: 12,
    icon: 'circle', backgroundColor: '#ffffff', borderColor: '#333', borderWidth: 1.5,
    selectedMode: false, z: 10,
    textStyle: {fontFamily: FONT, fontSize: 25, color: '#000', lineHeight: 28}
  });
});

const chart = echarts.init(document.getElementById('c'), null, {renderer: 'canvas'});
chart.setOption(option);
</script>
</body></html>
